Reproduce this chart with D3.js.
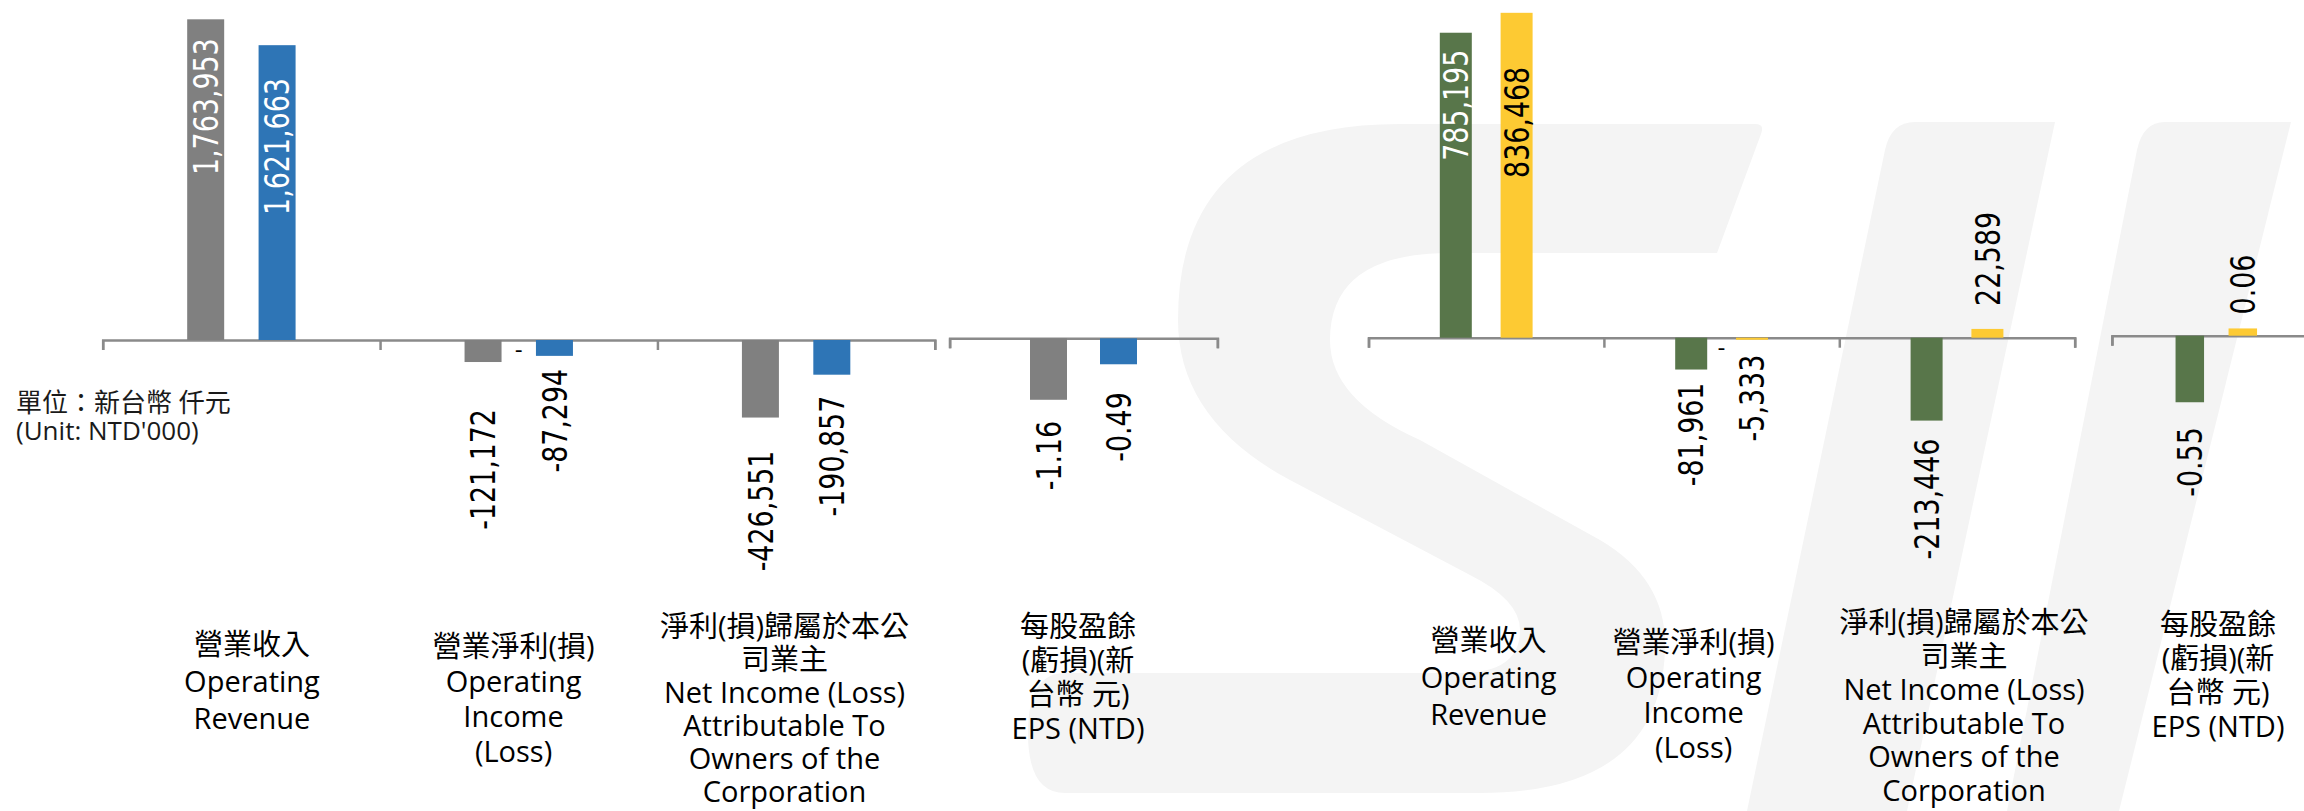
<!DOCTYPE html>
<html><head><meta charset="utf-8">
<script src="https://cdn.jsdelivr.net/npm/d3@7"></script>
<style>
html,body{margin:0;padding:0;background:#fff;}
svg{display:block;}
</style></head><body>
<svg id="chart" width="2304" height="811"></svg>
<script>
// ---------------- DATA ----------------
const mainCategories = [
  ["營業收入", "Operating", "Revenue"],
  ["營業淨利(損)", "Operating", "Income", "(Loss)"],
  ["淨利(損)歸屬於本公", "司業主", "Net Income (Loss)", "Attributable To", "Owners of the", "Corporation"]
];
const epsCategory = [["每股盈餘", "(虧損)(新", "台幣 元)", "EPS (NTD)"]];

// left chart (grey = prior, blue = current)
const leftPrior   = [1763953, -121172, -426551];
const leftCurrent = [1621663, -87294, -190857];
const leftEpsPrior   = [-1.16];
const leftEpsCurrent = [-0.49];

// right chart (green = prior, yellow = current)
const rightPrior   = [785195, -81961, -213446];
const rightCurrent = [836468, -5333, 22589];
const rightEpsPrior   = [-0.55];
const rightEpsCurrent = [0.06];

// zero-valued middle series, shown as "-" labels
const midLabels = ["", "-", ""];

const unitLines = ["單位：新台幣 仟元", "(Unit: NTD'000)"];

// ---------------- LAYOUT / STYLE ----------------
const svg = d3.select("#chart");
const WM = "#f4f4f4";
const loc = d3.formatLocale({ decimal: ".", thousands: ",", grouping: [3], currency: ["", ""], minus: "-" });

// watermark (faint logo in background)
const wm = svg.append("g").attr("fill", WM);
wm.append("path").attr("d",
  "M1400,124 L1755,124 Q1765,124 1761,134 L1717,253 L1450,253 Q1330,253 1330,340 " +
  "Q1330,400 1420,440 L1600,540 Q1668,580 1665,650 Q1660,793 1480,793 L1065,793 " +
  "Q1028,793 1028,733 Q1028,673 1065,673 L1460,673 Q1520,673 1520,630 Q1520,600 1470,575 " +
  "L1290,480 Q1178,420 1178,320 Q1178,124 1400,124 Z");
wm.append("path").attr("d", "M1915,122 L2055,122 L1907,811 L1747,811 L1885,150 Q1891,122 1915,122 Z");
wm.append("path").attr("d", "M2165,122 L2291,122 L2119,811 L2007,811 L2137,150 Q2143,122 2165,122 Z");

const panels = [
  { prior: leftPrior, current: leftCurrent, cats: mainCategories, x0: 102.7, x1: 934.8, y0: 340,
    unit: 1e6, pxPerUnit: 181.8, step: 35.7, barW: 37, colors: ["#808080", "#2e75b6"],
    inLabelFill: ["#ffffff", "#ffffff"], fmt: loc.format(","), mid: midLabels,
    gapsPrior: [19, 47, 33], gapsCurrent: [33, 13, 21],
    labelDx: [10.6, -5.2, -11.6], labelTop: [655, 657, 637], pitch: [37, 35, 33] },
  { prior: leftEpsPrior, current: leftEpsCurrent, cats: epsCategory, x0: 949.6, x1: 1217.4, y0: 338.3,
    unit: 1, pxPerUnit: 53, step: 35, barW: 37, colors: ["#808080", "#2e75b6"],
    inLabelFill: ["#ffffff", "#ffffff"], fmt: loc.format(".2f"), mid: [""],
    gapsPrior: [21], gapsCurrent: [28], labelDx: [-5.5], labelTop: [637], pitch: [34] },
  { prior: rightPrior, current: rightCurrent, cats: mainCategories, x0: 1368.5, x1: 2074.7, y0: 337.7,
    unit: 1e6, pxPerUnit: 388.4, step: 30.4, barW: 32, colors: ["#58764a", "#fdca33"],
    inLabelFill: ["#ffffff", "#000000"], fmt: loc.format(","), mid: midLabels,
    gapsPrior: [17, 13, 18], gapsCurrent: [54, 15, 23],
    labelDx: [2.4, -28, 7], labelTop: [651, 653, 633], pitch: [37, 35, 33.5] },
  { prior: rightEpsPrior, current: rightEpsCurrent, cats: epsCategory, x0: 2111.9, x1: 2320.7, y0: 335.7,
    unit: 1, pxPerUnit: 121, step: 26.5, barW: 28.5, colors: ["#58764a", "#fdca33"],
    inLabelFill: ["#ffffff", "#000000"], fmt: loc.format(".2f"), mid: [""],
    gapsPrior: [25], gapsCurrent: [14], labelDx: [1.7], labelTop: [635], pitch: [34] }
];

const LABEL_FONT = "'DejaVu Sans', Verdana, sans-serif";
const CAT_FONT = "'Open Sans', 'Noto Sans CJK TC', sans-serif";

panels.forEach(p => {
  const n = p.prior.length;
  const idx = d3.range(n);
  const x = d3.scaleBand().domain(idx).range([p.x0, p.x1]).paddingInner(0).paddingOuter(0);
  const inner = d3.scaleBand().domain(["prior", "mid", "current"])
    .range([-1.5 * p.step, 1.5 * p.step]);
  const y = d3.scaleLinear().domain([0, p.unit]).range([p.y0, p.y0 - p.pxPerUnit]);

  const g = svg.append("g");

  // axis with tick marks at category boundaries
  const bx = d3.scaleLinear().domain([0, n]).range([p.x0, p.x1]);
  const axis = d3.axisBottom(bx).tickValues(d3.range(n + 1)).tickSize(10).tickSizeOuter(10).tickFormat("");
  const ax = g.append("g").attr("transform", `translate(0,${p.y0})`).call(axis);
  ax.select(".domain").attr("stroke", "#8a8a8a").attr("stroke-width", 2.5);
  ax.selectAll(".tick line").attr("stroke", "#8a8a8a").attr("stroke-width", 2.5);

  const series = [
    { key: "prior", vals: p.prior, color: p.colors[0], inFill: p.inLabelFill[0], gaps: p.gapsPrior },
    { key: "current", vals: p.current, color: p.colors[1], inFill: p.inLabelFill[1], gaps: p.gapsCurrent }
  ];

  series.forEach(s => {
    const cx = i => x(i) + x.bandwidth() / 2 + inner(s.key) + inner.bandwidth() / 2;
    g.selectAll(null).data(s.vals).join("rect")
      .attr("x", (d, i) => cx(i) - p.barW / 2)
      .attr("width", p.barW)
      .attr("y", d => Math.min(y(d), y(0)))
      .attr("height", d => Math.abs(y(d) - y(0)))
      .attr("fill", s.color);

    // value labels (rotated)
    const inside = i => (i === 0 && p.unit === 1e6);
    g.selectAll(null).data(s.vals).join("text")
      .attr("transform", (d, i) => {
        const yEnd = y(d);
        const ya = (d < 0 || inside(i)) ? yEnd + s.gaps[i] : yEnd - s.gaps[i];
        return `translate(${cx(i)},${ya}) rotate(-90) scale(0.8,1)`;
      })
      .attr("text-anchor", (d, i) => (d < 0 || inside(i)) ? "end" : "start")
      .attr("dy", "0.36em")
      .attr("font-family", LABEL_FONT)
      .attr("font-size", 33.6)
      .attr("fill", (d, i) => inside(i) ? s.inFill : "#000")
      .text(d => p.fmt(d));
  });

  // "-" labels of zero series
  g.selectAll(null).data(p.mid).join("text")
    .attr("x", (d, i) => x(i) + x.bandwidth() / 2)
    .attr("y", p.y0 + 17)
    .attr("text-anchor", "middle")
    .attr("font-family", LABEL_FONT)
    .attr("font-size", 22)
    .attr("fill", "#000")
    .text(d => d);

  // category labels
  p.cats.forEach((lines, i) => {
    const t = g.append("text")
      .attr("text-anchor", "middle")
      .attr("font-family", CAT_FONT)
      .attr("font-size", 29)
      .attr("fill", "#000");
    lines.forEach((ln, k) => {
      t.append("tspan")
        .attr("x", x(i) + x.bandwidth() / 2 + p.labelDx[i])
        .attr("y", p.labelTop[i] + k * p.pitch[i])
        .text(ln);
    });
  });
});

// unit note
const ut = svg.append("text").attr("font-family", CAT_FONT).attr("font-size", 26).attr("fill", "#1a1a1a");
unitLines.forEach((ln, k) => {
  ut.append("tspan").attr("x", 16).attr("y", 412 + k * 28).text(ln);
});
</script>
</body></html>
